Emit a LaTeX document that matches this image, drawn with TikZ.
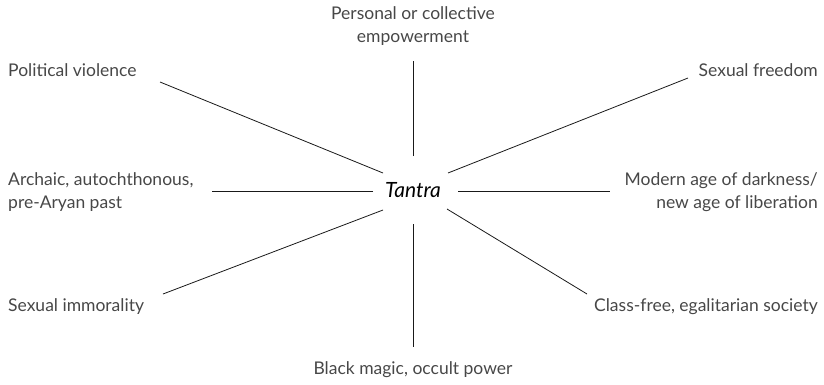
\documentclass[tikz,border=0pt]{standalone}
\usepackage{fontspec}
\setmainfont{Lato}
\begin{document}
\begin{tikzpicture}[x=1pt,y=-1pt,
  lbl/.style={inner sep=0pt,text=black!72,font=\fontsize{17.5}{23}\selectfont},
  hub/.style={inner sep=0pt,text=black,font=\fontsize{21}{24}\selectfont\itshape},
  spoke/.style={draw=black!90,line width=0.8pt}]
\useasboundingbox (0,0) rectangle (824,384);
\node[hub] (t) at (413,190) {Tantra};
\node[lbl,align=center] (top) at (413,26) {Personal or collective\\empowerment};
\node[lbl] (bot) at (413,370) {Black magic, occult power};
\node[lbl,anchor=west] (pv) at (8,70) {Political violence};
\node[lbl,anchor=east] (sf) at (818,70) {Sexual freedom};
\node[lbl,anchor=west,align=left] (ar) at (8,192) {Archaic, autochthonous,\\pre-Aryan past};
\node[lbl,anchor=east,align=right] (md) at (818,192) {Modern age of darkness/\\new age of liberation};
\node[lbl,anchor=west] (si) at (8,307) {Sexual immorality};
\node[lbl,anchor=east] (cf) at (818,307) {Class-free, egalitarian society};
% spoke ends
\coordinate (topA) at (413,156); \coordinate (topB) at (413,61);
\coordinate (botA) at (413,224); \coordinate (botB) at (413,347);
\coordinate (lA) at (373,191); \coordinate (lB) at (212,191);
\coordinate (rA) at (458,191); \coordinate (rB) at (610,191);
\coordinate (ulA) at (383,173); \coordinate (ulB) at (160,82);
\coordinate (urA) at (448,173); \coordinate (urB) at (688,78);
\coordinate (llA) at (383,210); \coordinate (llB) at (163,294);
\coordinate (lrA) at (447,209); \coordinate (lrB) at (587,294);
\draw[spoke] (topA) -- (topB);
\draw[spoke] (botA) -- (botB);
\draw[spoke] (lA) -- (lB);
\draw[spoke] (rA) -- (rB);
\draw[spoke] (ulA) -- (ulB);
\draw[spoke] (urA) -- (urB);
\draw[spoke] (llA) -- (llB);
\draw[spoke] (lrA) -- (lrB);
\end{tikzpicture}
\end{document}
